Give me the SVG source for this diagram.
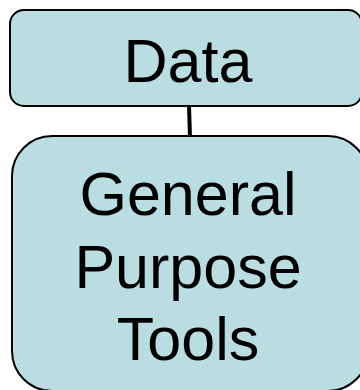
<svg xmlns="http://www.w3.org/2000/svg" width="360" height="390" viewBox="0 0 360 390">
  <style>
    .box { fill: #B9DDE0; stroke: #000; stroke-width: 2; }
    .lbl { font-family: "Liberation Sans", Arial, sans-serif; font-size: 61px; fill: #000; text-anchor: middle; }
    .link { stroke: #000; stroke-width: 4; fill: none; }
  </style>
  <rect width="360" height="390" fill="#fff"/>
  <g id="connectors">
    <path class="link" d="M189 106 L190 137"/>
  </g>
  <g id="data">
    <rect class="box" x="10" y="10" width="352" height="96" rx="14"/>
    <text class="lbl" x="188" y="82">Data</text>
  </g>
  <g id="tools">
    <rect class="box" x="12" y="136" width="356" height="255" rx="40"/>
    <text class="lbl" x="188" y="215">General</text>
    <text class="lbl" x="188" y="288">Purpose</text>
    <text class="lbl" x="188" y="360">Tools</text>
  </g>
</svg>
